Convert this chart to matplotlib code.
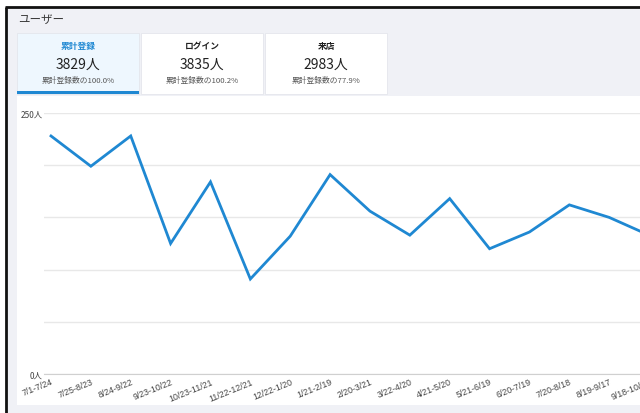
import matplotlib
matplotlib.use('Agg')
import matplotlib.pyplot as plt
from matplotlib.patches import Rectangle

plt.rcParams['font.family'] = ['Noto Sans CJK JP', 'DejaVu Sans']

# data
periods = ['7/1-7/24', '7/25-8/23', '8/24-9/22', '9/23-10/22', '10/23-11/21',
           '11/22-12/21', '12/22-1/20', '1/21-2/19', '2/20-3/21', '3/22-4/20',
           '4/21-5/20', '5/21-6/19', '6/20-7/19', '7/20-8/18', '8/19-9/17',
           '9/18-10/17']
users = [228, 199, 228, 125, 184, 91, 132, 191, 156, 133, 168, 120, 136, 162, 150, 133]

tab_titles = ['累計登録', 'ログイン', '来店']
tab_values = ['3829人', '3835人', '2983人']
tab_notes = ['累計登録数の100.0%', '累計登録数の100.2%', '累計登録数の77.9%']

y_ticks = [0, 50, 100, 150, 200, 250]
y_labels = ['0人', '', '', '', '', '250人']

W, H = 640, 414
BLUE = '#1f88d2'

fig = plt.figure(figsize=(W / 100, H / 100), dpi=100)
fig.patch.set_facecolor('white')

# background panel in pixel coords
bg = fig.add_axes([0, 0, 1, 1])
bg.set_xlim(0, W)
bg.set_ylim(H, 0)
bg.axis('off')
bg.add_patch(Rectangle((6, 8), W, H, facecolor='#f0f1f6', edgecolor='none'))
bg.plot([6, 6], [8, H], color='#111111', lw=2, solid_capstyle='butt')
bg.plot([5, W], [8, 8], color='#111111', lw=2, solid_capstyle='butt')
bg.text(18, 19, 'ユーザー', fontsize=8.3, color='#3a3a3a', va='center', ha='left')

# tabs
tab_x = [17, 141, 265]
tab_w = 122
for i in range(3):
    fc = '#eef7fe' if i == 0 else 'white'
    bg.add_patch(Rectangle((tab_x[i], 34), tab_w, 61, facecolor=fc,
                           edgecolor='#e4e6ec', lw=0.6))
    cx = tab_x[i] + tab_w / 2
    bg.text(cx, 47, tab_titles[i], fontsize=6.3, fontweight='bold',
            color=BLUE if i == 0 else '#222222', ha='center', va='center')
    bg.text(cx, 65, tab_values[i], fontsize=10, color='#222222',
            ha='center', va='center')
    bg.text(cx, 81, tab_notes[i], fontsize=5.6, color='#555555',
            ha='center', va='center')
bg.add_patch(Rectangle((17, 92), tab_w, 3, facecolor=BLUE, edgecolor='none'))

# chart card
bg.add_patch(Rectangle((17, 97), W, 309, facecolor='white', edgecolor='none'))

# chart
left, right, top, bottom = 44, 700, 114, 375
ax = fig.add_axes([left / W, (H - bottom) / H, (right - left) / W, (bottom - top) / H])
ax.patch.set_alpha(0)
x = list(range(len(users)))
ax.plot(x, users, color=BLUE, lw=2, solid_joinstyle='miter', clip_on=False)
step = 39.87
ax.set_xlim(-7 / step, (right - 51) / step)
ax.set_ylim(0, 250)
ax.set_yticks(y_ticks)
ax.set_yticklabels(y_labels, fontsize=6, color='#444444')
ax.set_xticks(x)
ax.set_xticklabels(periods, rotation=22, ha='right', va='top', rotation_mode='anchor',
                   fontsize=6.3, color='#444444', family=['Liberation Sans', 'DejaVu Sans'])
ax.tick_params(axis='both', length=0)
ax.tick_params(axis='x', pad=2)
ax.tick_params(axis='y', pad=1)
ax.grid(axis='y', color='#e8e8e8', lw=1)
ax.set_axisbelow(True)
for s in ['top', 'right', 'left']:
    ax.spines[s].set_visible(False)
ax.spines['bottom'].set_color('#d0d0d0')

fig.savefig('out.png', dpi=100)
